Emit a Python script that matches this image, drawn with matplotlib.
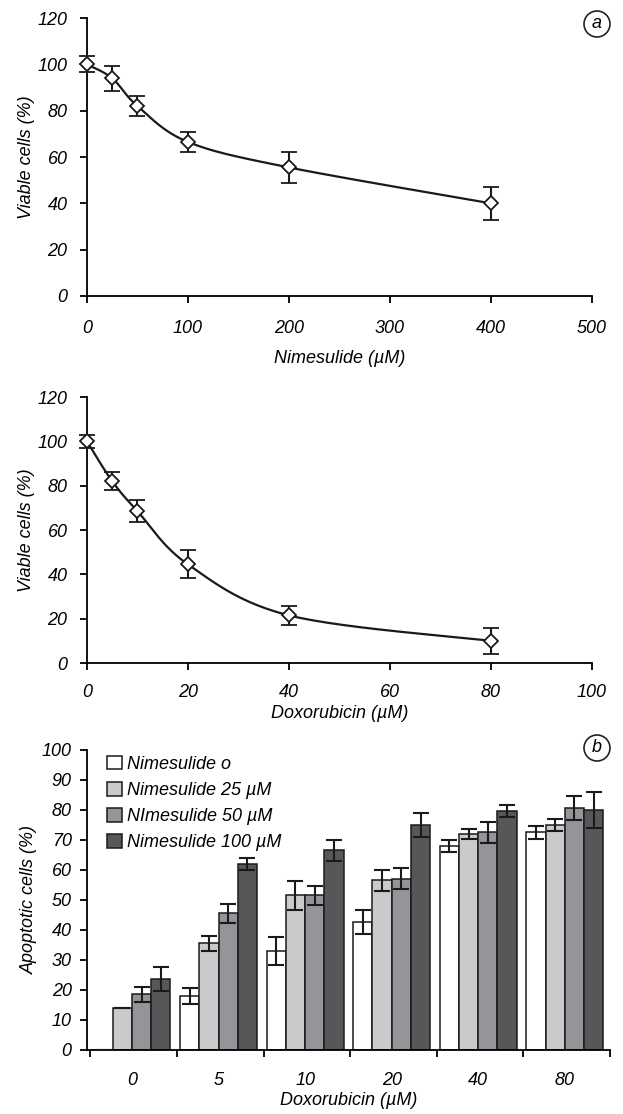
import numpy as np
import matplotlib
matplotlib.use("Agg")
import matplotlib.pyplot as plt
from matplotlib.patches import Ellipse

plt.rcParams['font.family'] = ['Liberation Sans', 'DejaVu Sans']
plt.rcParams['font.style'] = 'italic'
plt.rcParams['font.size'] = 13

# panel a, top: nimesulide alone
nim_dose = [0, 25, 50, 100, 200, 400]
nim_viable = [100, 94, 82, 66.5, 55.5, 40]
nim_err = [3.5, 5.5, 4.3, 4.2, 6.8, 7]

# panel a, middle: doxorubicin alone
dox_dose = [0, 5, 10, 20, 40, 80]
dox_viable = [100, 82, 68.5, 44.5, 21.5, 10]
dox_err = [3, 4, 5, 6.3, 4.3, 6]

# panel b: apoptosis
groups = ['0', '5', '10', '20', '40', '80']
series_names = ['Nimesulide o', 'Nimesulide 25 µM', 'NImesulide 50 µM', 'Nimesulide 100 µM']
apo_nim0 = [0, 18, 33, 42.5, 68, 72.5]
apo_nim25 = [14, 35.5, 51.5, 56.5, 72, 75]
apo_nim50 = [18.5, 45.5, 51.5, 57, 72.5, 80.5]
apo_nim100 = [23.5, 62, 66.5, 75, 79.5, 80]
err_nim0 = [0, 2.6, 4.7, 4, 2, 2.3]
err_nim25 = [0, 2.5, 4.8, 3.6, 1.6, 2]
err_nim50 = [2.6, 3.3, 3.2, 3.5, 3.4, 4]
err_nim100 = [4, 2, 3.6, 4, 2, 6]
bar_colors = ['white', '#c9cacc', '#939598', '#555759']


def smooth(x, y, sx, sy, n=30):
    # spreadsheet-style smoothed line, computed in screen-ish units
    px = np.asarray(x, float) / sx
    py = np.asarray(y, float) / sy
    ox, oy = [], []
    for i in range(len(px) - 1):
        p0 = np.array([px[max(i - 1, 0)], py[max(i - 1, 0)]])
        p1 = np.array([px[i], py[i]])
        p2 = np.array([px[i + 1], py[i + 1]])
        p3 = np.array([px[min(i + 2, len(px) - 1)], py[min(i + 2, len(px) - 1)]])
        c1 = p1 + (p2 - p0) / 6
        c2 = p2 - (p3 - p1) / 6
        t = np.linspace(0, 1, n)[:, None]
        b = (1 - t) ** 3 * p1 + 3 * (1 - t) ** 2 * t * c1 + 3 * (1 - t) * t ** 2 * c2 + t ** 3 * p2
        ox.extend(b[:, 0])
        oy.extend(b[:, 1])
    return np.array(ox) * sx, np.array(oy) * sy


def style_axes(ax, ypad=9):
    for s in ['top', 'right']:
        ax.spines[s].set_visible(False)
    for s in ['left', 'bottom']:
        ax.spines[s].set_linewidth(1.3)
    ax.tick_params(direction='out', width=1.3, length=5, labelsize=13)
    ax.tick_params(axis='y', pad=ypad)


def no_clip(container):
    for art in container.get_children():
        art.set_clip_on(False)


def circle_label(fig, x, y, txt):
    fig.patches.append(Ellipse((x, y), 26 / 623, 26 / 1114, transform=fig.transFigure,
                               fill=False, lw=1.2, ec='#222222'))
    fig.text(x, y, txt, ha='center', va='center', fontsize=13,
             transform=fig.transFigure)


fig = plt.figure(figsize=(6.23, 11.14), dpi=100)

# --- nimesulide curve
ax1 = fig.add_axes([0.1396, 0.7343, 0.8106, 0.2495])
sx, sy = smooth(nim_dose, nim_viable, 505 / 500, 278 / 120)
ax1.plot(sx, sy, color='#1a1a1a', lw=1.6, zorder=2, clip_on=False)
eb = ax1.errorbar(nim_dose, nim_viable, yerr=nim_err, fmt='D', ms=7, mfc='white',
                  mec='#1a1a1a', mew=1.3, ecolor='#1a1a1a', elinewidth=1.5,
                  capsize=6, capthick=1.5, zorder=3)
no_clip(eb)
ax1.set_xlim(0, 500)
ax1.set_ylim(0, 120)
ax1.set_xticks(range(0, 501, 100))
ax1.set_yticks(range(0, 121, 20))
ax1.set_xlabel('Nimesulide (µM)', labelpad=10)
ax1.set_ylabel('Viable cells (%)', labelpad=2)
style_axes(ax1)
ax1.tick_params(axis='x', pad=12)

# --- doxorubicin curve
ax2 = fig.add_axes([0.1396, 0.4048, 0.8106, 0.2388])
sx, sy = smooth(dox_dose, dox_viable, 505 / 100, 266 / 120)
ax2.plot(sx, sy, color='#1a1a1a', lw=1.6, zorder=2, clip_on=False)
eb = ax2.errorbar(dox_dose, dox_viable, yerr=dox_err, fmt='D', ms=7, mfc='white',
                  mec='#1a1a1a', mew=1.3, ecolor='#1a1a1a', elinewidth=1.5,
                  capsize=6, capthick=1.5, zorder=3)
no_clip(eb)
ax2.set_xlim(0, 100)
ax2.set_ylim(0, 120)
ax2.set_xticks(range(0, 101, 20))
ax2.set_yticks(range(0, 121, 20))
ax2.set_xlabel('Doxorubicin (µM)', labelpad=3)
ax2.set_ylabel('Viable cells (%)', labelpad=2)
style_axes(ax2)
ax2.tick_params(axis='x', pad=10)

# --- apoptosis bars
ax3 = fig.add_axes([0.1396, 0.0575, 0.8395, 0.2693])
vals = [apo_nim0, apo_nim25, apo_nim50, apo_nim100]
errs = [err_nim0, err_nim25, err_nim50, err_nim100]
w = 0.222
x = np.arange(len(groups))
for k in range(4):
    pos = x + 0.035 + w * (k + 0.5)
    ax3.bar(pos, vals[k], width=w, color=bar_colors[k], edgecolor='#1a1a1a',
            lw=1.1, label=series_names[k], zorder=2)
    ax3.errorbar(pos, vals[k], yerr=errs[k], fmt='none', ecolor='#1a1a1a',
                 elinewidth=1.5, capsize=6, capthick=1.5, zorder=3)
ax3.set_xlim(-0.04, 6.0)
ax3.set_ylim(0, 100)
ax3.set_yticks(range(0, 101, 10))
ax3.set_xticks(x + 0.48)
ax3.set_xticklabels(groups)
ax3.set_xticks(np.arange(0, 7), minor=True)
style_axes(ax3, ypad=6)
ax3.tick_params(axis='x', which='major', length=0, pad=16)
ax3.tick_params(axis='x', which='minor', direction='out', length=5, width=1.3)
ax3.set_xlabel('Doxorubicin (µM)', labelpad=2)
ax3.set_ylabel('Apoptotic cells (%)', labelpad=3)
ax3.legend(loc='upper left', bbox_to_anchor=(0.025, 1.005), frameon=False,
           handlelength=0.8, handleheight=0.8, handletextpad=0.3,
           labelspacing=0.5, fontsize=13, borderaxespad=0)

circle_label(fig, 597 / 623, 1 - 24 / 1114, 'a')
circle_label(fig, 597 / 623, 1 - 748 / 1114, 'b')

fig.savefig('out.png', dpi=100)
